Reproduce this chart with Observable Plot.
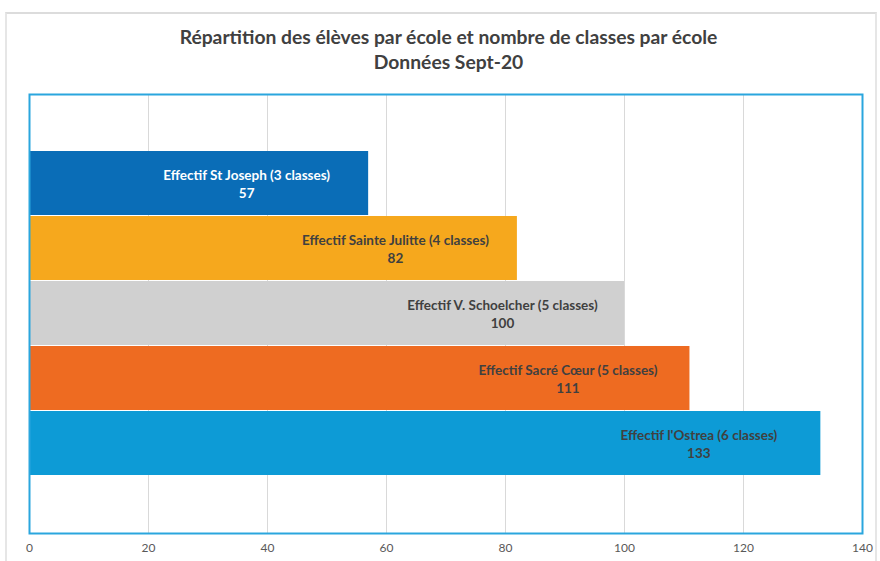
<!DOCTYPE html>
<html><head><meta charset="utf-8">
<script src="https://cdn.jsdelivr.net/npm/d3@7"></script>
<script src="https://cdn.jsdelivr.net/npm/@observablehq/plot@0.6"></script>
<style>
body{margin:0;background:#fff;font-family:Lato,"Open Sans",sans-serif;}
#wrap{position:relative;width:880px;height:561px;overflow:hidden;}
#border{position:absolute;left:5px;top:12px;width:868px;height:560px;border-top:2px solid #dcdcdc;border-left:2px solid #e6e6e6;border-right:2px solid #e6e6e6;}
#title{position:absolute;left:0;width:897px;top:24px;text-align:center;font-weight:bold;font-size:19.3px;line-height:25px;color:#404040;}
#chart{position:absolute;left:0;top:80px;}
</style></head>
<body><div id="wrap"><div id="border"></div>
<div id="title">Répartition des élèves par école et nombre de classes par école<br>Données Sept-20</div>
<div id="chart"></div></div>
<script>
const schools = ["St Joseph","Sainte Julitte","V. Schoelcher","Sacré Cœur","l'Ostrea"];
const classes = [3,4,5,5,6];
const effectifs = [57,82,100,111,133];
const colors = ["#0a6db7","#f6a81d","#d0d0d0","#ee6b21","#0d9bd6"];
const textColors = ["#ffffff","#404040","#404040","#404040","#404040"];
const xTicks = [0,20,40,60,80,100,120,140];

const data = schools.map((s,i)=>({
  school:s, value:effectifs[i], color:colors[i], tc:textColors[i],
  label:`Effectif ${s} (${classes[i]} classes)\n${effectifs[i]}`
}));

const plot = Plot.plot({
  width:880, height:481,
  marginLeft:29, marginRight:18, marginTop:14, marginBottom:28,
  style:{fontFamily:"Lato, 'Open Sans', sans-serif"},
  x:{domain:[0,140], ticks:xTicks, label:null},
  y:{domain:schools, type:"band", paddingInner:0.015, paddingOuter:0.86, axis:null},
  marks:[
    Plot.ruleX(xTicks.slice(1,-1), {stroke:"#d9d9d9", strokeWidth:1}),
    Plot.barX(data, {x:"value", y:"school", fill:"color"}),
    Plot.text(data, {x:"value", y:"school", text:"label", fill:"tc", dx:-122, textAnchor:"middle",
      fontWeight:"bold", fontSize:13.5, lineHeight:1.33}),
    Plot.frame({stroke:"#2aa6de", strokeWidth:2}),
    Plot.axisX({ticks:xTicks, tickSize:0, tickPadding:10, fontSize:12, color:"#595959"})
  ]
});
document.getElementById("chart").appendChild(plot);
</script></body></html>
